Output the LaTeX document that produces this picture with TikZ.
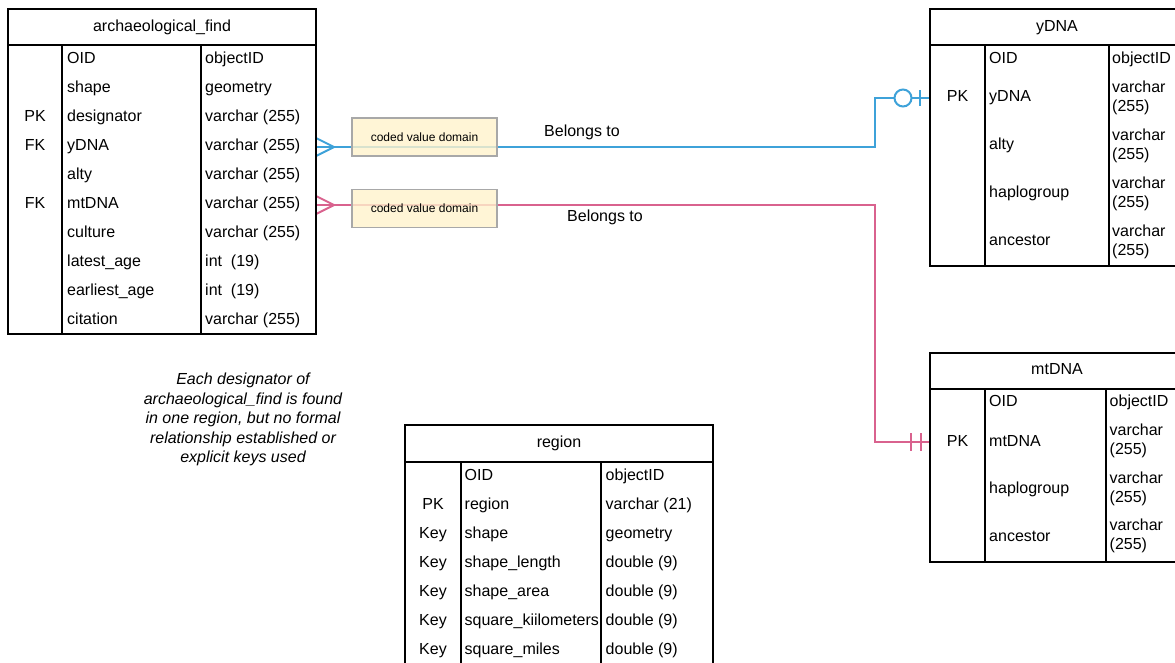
\documentclass[tikz,border=0pt]{standalone}
\usepackage{fontspec}
\setmainfont{Liberation Sans}
\usetikzlibrary{positioning}
\definecolor{relblue}{HTML}{3EA2D9}
\definecolor{relpink}{HTML}{D9628E}
\definecolor{domfill}{HTML}{FFF2CC}
\definecolor{domline}{HTML}{A8A8A8}
\tikzset{
  every node/.style={font=\fontsize{16}{19}\selectfont, inner sep=0pt},
  tbl/.style={line width=1.8pt},
  fld/.style={anchor=base west},
  keyfld/.style={anchor=base},
  wrapfld/.style={anchor=north west, align=left, yshift=2pt},
  rel/.style={line width=2pt},
  domainbox/.style={draw=domline, fill=domfill, fill opacity=0.8, text opacity=1,
    line width=1.5pt, minimum width=145pt, minimum height=38pt,
    font=\fontsize{12}{14}\selectfont},
  notetext/.style={align=center, font=\fontsize{16}{19.5}\selectfont\itshape},
}

\begin{document}
\begin{tikzpicture}[x=1pt,y=-1pt]
\useasboundingbox (0,0) rectangle (1175,662);
\clip (0,0) rectangle (1175,662);

% relationships
\coordinate (af-ydna) at (316,147);
\coordinate (ybend) at (875,147);
\coordinate (ydna-pk) at (930,98);
\coordinate (af-mtdna) at (316,205);
\coordinate (mbend) at (875,205);
\coordinate (mtdna-pk) at (930,442);

\draw[rel,relblue] (af-ydna) -- (ybend) |- (ydna-pk);
\draw[rel,relblue] ([yshift=9pt]af-ydna) -- ([xshift=18pt]af-ydna) -- ([yshift=-9pt]af-ydna);
\node[rel,draw=relblue,fill=white,circle,minimum size=17pt] (yopt) at (903,98) {};
\draw[rel,relblue] (920,90) -- (920,106);

\draw[rel,relpink] (af-mtdna) -- (mbend) |- (mtdna-pk);
\draw[rel,relpink] ([yshift=9pt]af-mtdna) -- ([xshift=18pt]af-mtdna) -- ([yshift=-9pt]af-mtdna);
\draw[rel,relpink] (911,433) -- (911,451);
\draw[rel,relpink] (921,433) -- (921,451);

\node[domainbox] (cvd-y) at (424.5,137) {coded value domain};
\node[domainbox] (cvd-m) at (424.5,208.5) {coded value domain};
\node[fld] (bel-y) at (544,136.5) {Belongs to};
\node[fld] (bel-m) at (567,221.5) {Belongs to};

% archaeological_find
\draw[tbl] (8,9) rectangle (316,334);
\draw[tbl] (8,45) -- (316,45);
\draw[tbl] (62,45) -- (62,334);
\draw[tbl] (201,45) -- (201,334);
\node[keyfld] (af-title) at (162,31.5) {archaeological\_find};
\node[fld] (af-n1) at (67,63.5) {OID};
\node[fld] (af-t1) at (205,63.5) {objectID};
\node[fld] (af-n2) at (67,92.5) {shape};
\node[fld] (af-t2) at (205,92.5) {geometry};
\node[keyfld] (af-k3) at (35,121.5) {PK};
\node[fld] (af-n3) at (67,121.5) {designator};
\node[fld] (af-t3) at (205,121.5) {varchar (255)};
\node[keyfld] (af-k4) at (35,150.5) {FK};
\node[fld] (af-n4) at (67,150.5) {yDNA};
\node[fld] (af-t4) at (205,150.5) {varchar (255)};
\node[fld] (af-n5) at (67,179.5) {alty};
\node[fld] (af-t5) at (205,179.5) {varchar (255)};
\node[keyfld] (af-k6) at (35,208.5) {FK};
\node[fld] (af-n6) at (67,208.5) {mtDNA};
\node[fld] (af-t6) at (205,208.5) {varchar (255)};
\node[fld] (af-n7) at (67,237.5) {culture};
\node[fld] (af-t7) at (205,237.5) {varchar (255)};
\node[fld] (af-n8) at (67,266.5) {latest\_age};
\node[fld] (af-t8) at (205,266.5) {int\ \ (19)};
\node[fld] (af-n9) at (67,295.5) {earliest\_age};
\node[fld] (af-t9) at (205,295.5) {int\ \ (19)};
\node[fld] (af-n10) at (67,324.5) {citation};
\node[fld] (af-t10) at (205,324.5) {varchar (255)};

% yDNA
\draw[tbl] (930,9) rectangle (1184,266);
\draw[tbl] (930,45) -- (1184,45);
\draw[tbl] (985,45) -- (985,266);
\draw[tbl] (1109,45) -- (1109,266);
\node[keyfld] (yd-title) at (1057,31) {yDNA};
\node[fld] (yd-n1) at (989,63.5) {OID};
\node[fld] (yd-t1) at (1112,63.5) {objectID};
\node[keyfld] (yd-k2) at (957.5,101.5) {PK};
\node[fld] (yd-n2) at (989,101.5) {yDNA};
\node[wrapfld] (yd-t2) at (1112,82.5) {varchar\\(255)};
\node[fld] (yd-n3) at (989,149.5) {alty};
\node[wrapfld] (yd-t3) at (1112,130.5) {varchar\\(255)};
\node[fld] (yd-n4) at (989,197.5) {haplogroup};
\node[wrapfld] (yd-t4) at (1112,178.5) {varchar\\(255)};
\node[fld] (yd-n5) at (989,245.5) {ancestor};
\node[wrapfld] (yd-t5) at (1112,226.5) {varchar\\(255)};

% mtDNA
\draw[tbl] (930,353) rectangle (1184,562);
\draw[tbl] (930,389) -- (1184,389);
\draw[tbl] (985,389) -- (985,562);
\draw[tbl] (1106,389) -- (1106,562);
\node[keyfld] (mt-title) at (1057,374) {mtDNA};
\node[fld] (mt-n1) at (989,406.5) {OID};
\node[fld] (mt-t1) at (1109.5,406.5) {objectID};
\node[keyfld] (mt-k2) at (957.5,446) {PK};
\node[fld] (mt-n2) at (989,446) {mtDNA};
\node[wrapfld] (mt-t2) at (1109.5,426) {varchar\\(255)};
\node[fld] (mt-n3) at (989,493.5) {haplogroup};
\node[wrapfld] (mt-t3) at (1109.5,473.5) {varchar\\(255)};
\node[fld] (mt-n4) at (989,541) {ancestor};
\node[wrapfld] (mt-t4) at (1109.5,521) {varchar\\(255)};

% region
\draw[tbl] (405,425) rectangle (713,690);
\draw[tbl] (405,462) -- (713,462);
\draw[tbl] (461,462) -- (461,690);
\draw[tbl] (601,462) -- (601,690);
\node[keyfld] (rg-title) at (559,447) {region};
\node[fld] (rg-n1) at (464.5,480.5) {OID};
\node[fld] (rg-t1) at (605.5,480.5) {objectID};
\node[keyfld] (rg-k2) at (433,509.5) {PK};
\node[fld] (rg-n2) at (464.5,509.5) {region};
\node[fld] (rg-t2) at (605.5,509.5) {varchar (21)};
\node[keyfld] (rg-k3) at (433,538.5) {Key};
\node[fld] (rg-n3) at (464.5,538.5) {shape};
\node[fld] (rg-t3) at (605.5,538.5) {geometry};
\node[keyfld] (rg-k4) at (433,567.5) {Key};
\node[fld] (rg-n4) at (464.5,567.5) {shape\_length};
\node[fld] (rg-t4) at (605.5,567.5) {double (9)};
\node[keyfld] (rg-k5) at (433,596.5) {Key};
\node[fld] (rg-n5) at (464.5,596.5) {shape\_area};
\node[fld] (rg-t5) at (605.5,596.5) {double (9)};
\node[keyfld] (rg-k6) at (433,625.5) {Key};
\node[fld] (rg-n6) at (464.5,625.5) {square\_kiilometers};
\node[fld] (rg-t6) at (605.5,625.5) {double (9)};
\node[keyfld] (rg-k7) at (433,654.5) {Key};
\node[fld] (rg-n7) at (464.5,654.5) {square\_miles};
\node[fld] (rg-t7) at (605.5,654.5) {double (9)};

% note
\node[notetext,anchor=north] (note) at (243,373) {Each designator of\\archaeological\_find is found\\in one region, but no formal\\relationship established or\\explicit keys used};
\end{tikzpicture}
\end{document}
